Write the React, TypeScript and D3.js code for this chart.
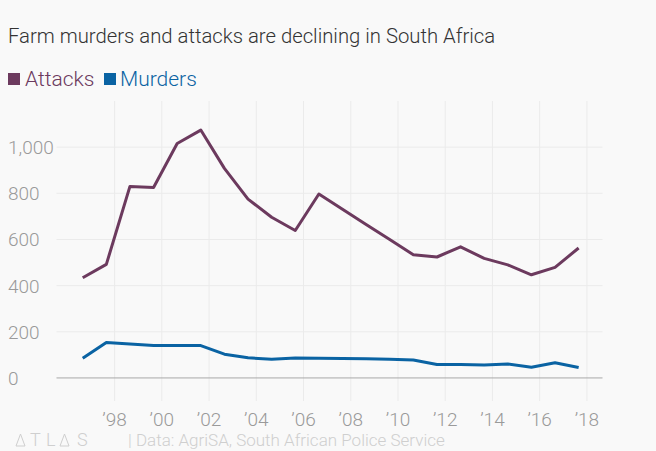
import { useEffect } from 'react';
import * as d3 from 'd3';

// Reporting periods (start year of each period), plotted a little past mid-year
const periodStart = [1996, 1997, 1998, 1999, 2000, 2001, 2002, 2003, 2004, 2005, 2006,
  2007, 2008, 2009, 2010, 2011, 2012, 2013, 2014, 2015, 2016, 2017];
const attacks = [434, 492, 830, 825, 1016, 1074, 908, 775, 696, 639, 797,
  731, 665, 600, 534, 524, 568, 518, 490, 447, 479, 563];
const murders = [85, 153, 147, 140, 140, 140, 103, 87, 81, 86, 85,
  84, 83, 81, 78, 58, 58, 56, 60, 46, 66, 45];
const yTicks = [0, 200, 400, 600, 800, 1000];
const xTicks = [1998, 2000, 2002, 2004, 2006, 2008, 2010, 2012, 2014, 2016, 2018];

const W = 656, H = 451;
const FONT = 'Roboto, sans-serif';
const C_ATT = '#6c3a5e';
const C_MUR = '#0a63a3';

export default function App() {
  useEffect(() => {
    document.body.style.margin = '0';
    document.body.style.background = '#f9f9f9';
  }, []);

  const xs = periodStart.map((y) => y + 0.65);
  const x = d3.scaleLinear().domain([d3.min(xs)! - 1.11, d3.max(xs)! + 1.01]).range([56.5, 602.5]);
  const y = d3.scaleLinear().domain([-100, 1200]).range([401, 101]);

  const line = d3.line<number>().x((_, i) => x(xs[i])).y((d) => y(d));

  // open triangle used for the "A" in the ATLAS mark
  const tri = (x0: number, base: number) =>
    `M${x0},${base} L${x0 + 4.5},${base - 12} L${x0 + 9},${base} Z`;

  return (
    <svg width={W} height={H} viewBox={`0 0 ${W} ${H}`} style={{ display: 'block', background: '#f9f9f9' }}>
      <text x={8} y={43} fontFamily={FONT} fontWeight={300} fontSize={20.3} fill="#333">
        Farm murders and attacks are declining in South Africa
      </text>

      {/* legend */}
      <rect x={8} y={73} width={12} height={12} fill={C_ATT} />
      <text x={25} y={86} fontFamily={FONT} fontWeight={300} fontSize={21} fill={C_ATT}>Attacks</text>
      <rect x={104} y={73} width={12} height={12} fill={C_MUR} />
      <text x={120} y={86} fontFamily={FONT} fontWeight={300} fontSize={21} fill={C_MUR}>Murders</text>

      {/* grid */}
      {xTicks.map((t) => (
        <line key={'gx' + t} x1={x(t)} x2={x(t)} y1={y.range()[1]} y2={y.range()[0]} stroke="#ebebeb" strokeWidth={1} />
      ))}
      {yTicks.map((t) => (
        <g key={'gy' + t}>
          <line x1={x.range()[0]} x2={x.range()[1]} y1={y(t)} y2={y(t)}
            stroke={t === 0 ? '#a8a8a8' : '#ebebeb'} strokeWidth={1} />
          <text x={8} y={y(t) + 7} fontFamily={FONT} fontWeight={300} fontSize={19} fill="#9a9a9a">
            {d3.format(',')(t)}
          </text>
        </g>
      ))}
      {xTicks.map((t) => (
        <text key={'tx' + t} x={x(t)} y={426} textAnchor="middle" fontFamily={FONT} fontWeight={300}
          fontSize={19} fill="#9a9a9a">
          {'\u2019' + String(t).slice(2)}
        </text>
      ))}

      {/* series */}
      <path d={line(attacks)!} fill="none" stroke={C_ATT} strokeWidth={3} strokeLinejoin="round" />
      <path d={line(murders)!} fill="none" stroke={C_MUR} strokeWidth={3} strokeLinejoin="round" />

      {/* footer */}
      <g fill="none" stroke="#cfcfcf" strokeWidth={1}>
        <path d={tri(16, 446)} />
        <path d={tri(60, 446)} />
      </g>
      <text x={30} y={446} fontFamily={FONT} fontWeight={300} fontSize={18} fill="#cfcfcf">T</text>
      <text x={46} y={446} fontFamily={FONT} fontWeight={300} fontSize={18} fill="#cfcfcf">L</text>
      <text x={77} y={446} fontFamily={FONT} fontWeight={300} fontSize={18} fill="#cfcfcf">S</text>
      <text x={128} y={446} fontFamily={FONT} fontWeight={300} fontSize={17} fill="#cfcfcf">
        | Data: AgriSA, South African Police Service
      </text>
    </svg>
  );
}
